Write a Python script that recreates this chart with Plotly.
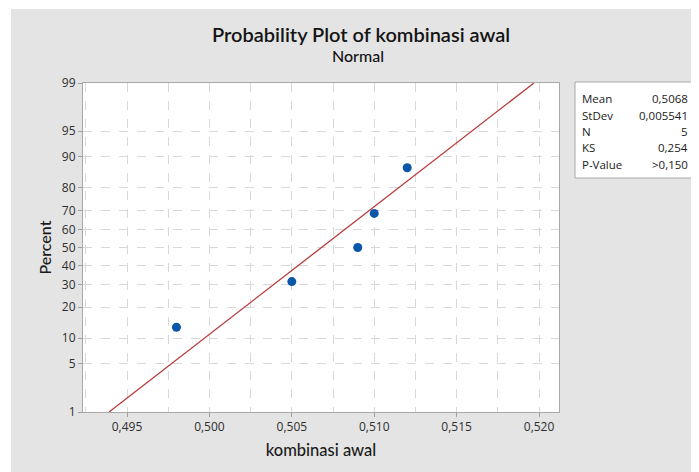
import plotly.graph_objects as go
from statistics import NormalDist

# ---- data ----
x_values = [0.498, 0.505, 0.509, 0.510, 0.512]
percent_values = [12.96, 31.48, 50.0, 68.52, 87.04]
percent_ticks = [1, 5, 10, 20, 30, 40, 50, 60, 70, 80, 90, 95, 99]
percent_tick_labels = ["1", "5", "10", "20", "30", "40", "50", "60", "70", "80", "90", "95", "99"]
fit_percent = [1, 99]
mean_val = 0.5068
stdev_val = 0.005541
stat_labels = ["Mean", "StDev", "N", "KS", "P-Value"]
stat_values = ["0,5068", "0,005541", "5", "0,254", ">0,150"]

nd = NormalDist()
z = lambda p: nd.inv_cdf(p / 100.0)

point_z = [z(p) for p in percent_values]
tick_z = [z(p) for p in percent_ticks]
fit_z = [z(p) for p in fit_percent]
fit_x = [mean_val + zz * stdev_val for zz in fit_z]

FONT = "Open Sans"
TFONT = "Lato"
OFF = 8  # page body margin
FW, FH = 699 - OFF, 472 - OFF

fig = go.Figure()
fig.add_trace(go.Scatter(x=fit_x, y=fit_z, mode="lines",
                         line=dict(color="#b83a3a", width=1.3), hoverinfo="skip"))
fig.add_trace(go.Scatter(x=x_values, y=point_z, mode="markers",
                         marker=dict(color="#0a56a8", size=9)))

# plot area in reference pixels: left 83, right 559, top 83, bottom 412
L, R, T, B = 83 - OFF, 559 - OFF, 83 - OFF, 412 - OFF
W, H = R - L, B - T
px = lambda x: (x - OFF - L) / W
py = lambda y: (B - (y - OFF)) / H

fig.update_layout(
    width=FW, height=FH,
    margin=dict(l=L, r=FW - R, t=T, b=FH - B),
    paper_bgcolor="#e4e4e4", plot_bgcolor="white",
    separators=", ",
    showlegend=False,
    font=dict(family=FONT, color="#333333", size=12),
)
fig.update_xaxes(
    range=[0.49233, 0.52121], tick0=0.495, dtick=0.005, tickformat=".3f",
    ticks="outside", ticklen=4, tickcolor="#a0a0a0",
    showgrid=True, gridcolor="#d8d8d8", griddash="dash", gridwidth=1,
    minor=dict(dtick=0.0025, tick0=0.495, showgrid=True, gridcolor="#d8d8d8", griddash="dash"),
    showline=True, linecolor="#a8a8a8", linewidth=1, mirror=True, zeroline=False,
    tickfont=dict(size=12, color="#2e2e2e"),
    title=dict(text="kombinasi awal", font=dict(family=TFONT, size=16.5, color="#1a1a1a", weight=500), standoff=10),
)
fig.update_yaxes(
    range=[z(1), z(99)], tickmode="array", tickvals=tick_z, ticktext=percent_tick_labels,
    ticks="outside", ticklen=4, tickcolor="#a0a0a0",
    showgrid=True, gridcolor="#d8d8d8", griddash="dash", gridwidth=1,
    showline=True, linecolor="#a8a8a8", linewidth=1, mirror=True, zeroline=False,
    tickfont=dict(size=12, color="#2e2e2e"),
    title=dict(text="Percent", font=dict(family=TFONT, size=16, color="#1a1a1a", weight=500), standoff=6),
)

shapes = [
    # white outer frame (top and left strips)
    dict(type="rect", xref="paper", yref="paper", x0=px(OFF), x1=px(699), y0=py(9), y1=py(OFF),
         fillcolor="white", line=dict(width=0), layer="above"),
    dict(type="rect", xref="paper", yref="paper", x0=px(OFF), x1=px(11), y0=py(472), y1=py(OFF),
         fillcolor="white", line=dict(width=0), layer="above"),
    # stats box
    dict(type="rect", xref="paper", yref="paper", x0=px(575), x1=px(693), y0=py(178), y1=py(82),
         fillcolor="white", line=dict(color="#a8a8a8", width=1)),
]
annotations = [
    dict(text="Probability Plot of kombinasi awal", xref="paper", yref="paper",
         x=px(361), y=py(34), xanchor="center", yanchor="middle", showarrow=False,
         font=dict(family=TFONT, size=20, color="#141414", weight=600)),
    dict(text="Normal", xref="paper", yref="paper",
         x=px(358), y=py(56), xanchor="center", yanchor="middle", showarrow=False,
         font=dict(family=TFONT, size=16, color="#141414", weight=500)),
]
row_y = [98, 115, 131, 147, 164]
for lab, val, yy in zip(stat_labels, stat_values, row_y):
    annotations.append(dict(text=lab, xref="paper", yref="paper", x=px(580), y=py(yy),
                            xanchor="left", yanchor="middle", showarrow=False,
                            font=dict(size=11.5, color="#1a1a1a")))
    annotations.append(dict(text=val, xref="paper", yref="paper", x=px(690), y=py(yy),
                            xanchor="right", yanchor="middle", showarrow=False,
                            font=dict(size=11.5, color="#1a1a1a")))
fig.update_layout(shapes=shapes, annotations=annotations)

fig.write_html("out.html")
